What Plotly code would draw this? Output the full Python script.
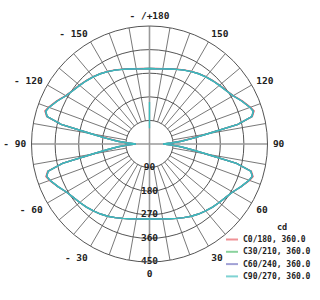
import plotly.graph_objects as go

# Gamma angles (deg from nadir) and luminous intensity (cd)
gamma = [0, 5, 10, 15, 20, 25, 30, 35, 40, 45, 50, 55, 60, 65, 70, 72.5, 75, 77.5, 80, 82.5, 85, 87.5, 90,
         92.5, 95, 97.5, 100, 102.5, 105, 107.5, 110, 115, 120, 125, 130, 135, 140, 145, 150, 155, 160, 165, 170, 175, 180]
c0_180 = [286, 287, 290, 295, 302, 310, 318, 326, 333, 340, 347, 355, 366, 386, 406, 414, 402, 338, 215, 155, 115, 78, 52,
          80, 118, 160, 222, 344, 406, 418, 410, 390, 369, 357, 349, 342, 335, 328, 320, 312, 304, 297, 292, 289, 288]
c30_210 = [286, 287, 290, 295, 302, 310, 318, 326, 333, 340, 347, 355, 366, 385, 404, 411, 400, 340, 220, 160, 120, 80, 52,
           82, 122, 165, 226, 345, 404, 415, 408, 388, 368, 356, 348, 341, 334, 327, 319, 311, 303, 296, 291, 288, 288]
c60_240 = c30_210
c90_270 = c30_210
series_names = ["C0/180, 360.0", "C30/210, 360.0", "C60/240, 360.0", "C90/270, 360.0"]
series_colors = ["#e8575f", "#4dbb6a", "#6f6fc0", "#3cbcbc"]
legend_title = "cd"

# stray vertical segment of the C90/270 curve at gamma 180
spike_r = [60, 160]
spike_theta = [180, 180]

radial_ticks = [90, 180, 270, 360, 450]
angular_tickvals = [0, 30, 60, 90, 120, 150, 180, 210, 240, 270, 300, 330]
angular_ticktext = ["0", "30", "60", "90", "120", "150", "- /+180", "- 150", "- 120", "- 90", "- 60", "- 30"]
spoke_angles = [a for a in range(0, 360, 10) if a % 90 != 0]

FONT = "DejaVu Sans Mono"
W, H = 320, 300
fig = go.Figure()

# spokes from the first ring to the outer ring
sr, st = [], []
for a in spoke_angles:
    sr += [radial_ticks[0], radial_ticks[-1], None]
    st += [a, a, None]
fig.add_trace(go.Scatterpolar(r=sr, theta=st, mode="lines", line=dict(color="#555555", width=0.8),
                              showlegend=False, hoverinfo="skip"))
# main axes through the centre
for a in [0, 90]:
    fig.add_trace(go.Scatterpolar(r=[radial_ticks[-1], 0, radial_ticks[-1]], theta=[a, a, a + 180], mode="lines",
                                  line=dict(color="#9a9a9a", width=1.6), showlegend=False, hoverinfo="skip"))

def full(vals):
    th = [g for g in gamma] + [-g for g in reversed(gamma)]
    rr = list(vals) + list(reversed(vals))
    return rr, th

for name, vals, col in zip(series_names, [c0_180, c30_210, c60_240, c90_270], series_colors):
    rr, th = full(vals)
    fig.add_trace(go.Scatterpolar(r=rr, theta=th, mode="lines", name=name, line=dict(color=col, width=1.4),
                                  showlegend=False))

fig.add_trace(go.Scatterpolar(r=spike_r, theta=spike_theta, mode="lines", line=dict(color=series_colors[3], width=1.4),
                              showlegend=False, hoverinfo="skip"))

# radial labels
fig.add_trace(go.Scatterpolar(r=radial_ticks, theta=[0] * len(radial_ticks), mode="text",
                              text=[str(t) for t in radial_ticks], textposition="middle center",
                              textfont=dict(family=FONT, size=9.5, color="#222222", weight="bold"),
                              showlegend=False, hoverinfo="skip"))

# manual legend (compact, like the reference)
shapes, annotations = [], []
annotations.append(dict(x=281.5 / W, y=1 - 227 / H, xref="paper", yref="paper", text=legend_title, showarrow=False,
                        xanchor="center", yanchor="middle",
                        font=dict(family=FONT, size=8.5, color="#222222", weight="bold")))
for i, (name, col) in enumerate(zip(series_names, series_colors)):
    yy = 1 - (239.5 + 12.3 * i) / H
    shapes.append(dict(type="line", xref="paper", yref="paper", x0=226 / W, x1=238 / W, y0=yy, y1=yy,
                       line=dict(color=col, width=2), opacity=0.65))
    annotations.append(dict(x=241 / W, y=yy, xref="paper", yref="paper", text=name, showarrow=False,
                            xanchor="left", yanchor="middle",
                            font=dict(family=FONT, size=8, color="#222222", weight="bold")))

fig.update_layout(
    width=W, height=H,
    margin=dict(l=0, r=0, t=0, b=0),
    paper_bgcolor="white", plot_bgcolor="white",
    font=dict(family=FONT, size=9.5, color="#222222"),
    polar=dict(
        domain=dict(x=[31.5 / W, 267.5 / W], y=[1 - 262 / H, 1 - 26 / H]),
        bgcolor="white",
        angularaxis=dict(rotation=-90, direction="counterclockwise", tickvals=angular_tickvals,
                         ticktext=angular_ticktext, showgrid=False, ticks="outside", ticklen=3,
                         tickcolor="rgba(0,0,0,0)", showline=True,
                         linecolor="#555555", linewidth=1,
                         tickfont=dict(family=FONT, size=9.5, color="#222222", weight="bold")),
        radialaxis=dict(range=[0, 450], tickvals=radial_ticks, showticklabels=False, ticks="",
                        showline=False, showgrid=True, gridcolor="#555555", gridwidth=0.8),
    ),
    shapes=shapes, annotations=annotations,
    showlegend=False,
)

fig.write_html("out.html")
